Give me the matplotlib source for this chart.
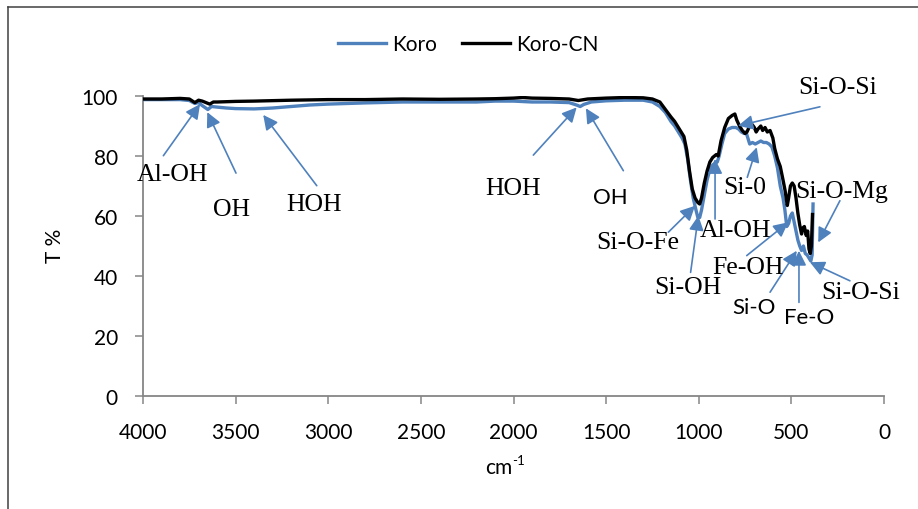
import matplotlib
matplotlib.use("Agg")
import matplotlib.pyplot as plt
from matplotlib.lines import Line2D

# FTIR spectra (wavenumber cm-1, transmittance %)
koro_wn = [4000, 3900, 3800, 3750, 3720, 3700, 3680, 3650, 3630, 3600, 3550,
           3500, 3400, 3300, 3200, 3100, 3000, 2800, 2600, 2400, 2200, 2100,
           2000, 1900, 1800, 1700, 1660, 1640, 1620, 1580, 1500, 1400, 1300,
           1250, 1210, 1180, 1150, 1130, 1110, 1090, 1075, 1060, 1045, 1030,
           1015, 1005, 995, 985, 970, 955, 940, 925, 912, 900, 890, 875, 860,
           840, 820, 800, 785, 770, 755, 745, 735, 725, 710, 695, 680, 665,
           650, 635, 620, 605, 590, 575, 560, 545, 535, 525, 515, 505, 495,
           485, 475, 465, 455, 445, 435, 425, 415, 405, 395, 388, 383]
koro_t = [98.8, 98.8, 98.8, 98.5, 97.5, 97.8, 96.8, 95.5, 96.5, 96.3, 96.0,
          95.8, 95.7, 96.0, 96.5, 97.0, 97.3, 97.7, 98.0, 98.0, 98.0, 98.3,
          98.3, 98.0, 98.0, 97.8, 97.0, 96.5, 97.2, 98.0, 98.4, 98.6, 98.6,
          98.0, 96.5, 94.5, 91.5, 90.0, 88.0, 86.0, 84.0, 79.0, 72.0, 66.0,
          62.0, 59.5, 59.5, 62.0, 67.0, 72.0, 75.5, 77.0, 77.5, 78.0, 80.0,
          84.0, 87.5, 89.0, 89.5, 89.5, 89.0, 88.0, 87.5, 88.0, 86.0, 84.0,
          84.5, 84.0, 84.5, 85.0, 84.5, 84.5, 84.0, 83.0, 80.0, 76.0, 70.0,
          66.0, 62.0, 56.5, 57.5, 60.0, 61.0, 58.0, 55.0, 52.0, 50.0, 48.5,
          50.0, 47.5, 47.0, 46.0, 45.0, 47.0, 64.0]

koro_cn_wn = [4000, 3900, 3800, 3750, 3720, 3700, 3680, 3640, 3620, 3600, 3500,
              3400, 3200, 3000, 2800, 2600, 2400, 2200, 2100, 2000, 1950, 1900,
              1800, 1700, 1650, 1600, 1500, 1400, 1300, 1250, 1210, 1180, 1150,
              1130, 1100, 1080, 1065, 1050, 1035, 1020, 1005, 995, 985, 970,
              955, 940, 925, 915, 905, 895, 880, 860, 840, 820, 805, 795, 780,
              765, 750, 740, 725, 712, 700, 690, 680, 665, 655, 642, 630, 615,
              600, 590, 575, 560, 545, 534, 522, 515, 505, 495, 485, 475, 465,
              455, 445, 438, 430, 420, 412, 405, 398, 392, 386]
koro_cn_t = [99.0, 99.0, 99.2, 99.0, 97.8, 98.6, 98.3, 97.3, 98.0, 98.0, 98.2,
             98.3, 98.6, 98.8, 98.8, 99.0, 98.9, 99.0, 99.1, 99.3, 99.5, 99.3,
             99.2, 99.0, 98.5, 99.0, 99.3, 99.5, 99.4, 99.0, 98.0, 95.5, 93.0,
             91.5, 88.5, 86.5, 82.0, 75.0, 69.0, 66.0, 64.5, 64.0, 66.0, 71.0,
             75.0, 78.0, 79.5, 80.0, 80.5, 80.0, 85.0, 89.5, 92.5, 93.5, 94.0,
             92.0, 90.0, 88.5, 87.5, 88.0, 90.0, 90.5, 89.5, 88.0, 89.0, 90.0,
             88.5, 89.5, 88.0, 88.5, 86.0, 82.5, 79.0, 76.5, 72.0, 68.5, 63.5,
             66.0, 70.0, 71.0, 70.0, 66.0, 61.0, 57.0, 54.0, 56.0, 56.5, 53.5,
             55.0, 49.0, 47.5, 50.0, 60.5]

x_ticks = [4000, 3500, 3000, 2500, 2000, 1500, 1000, 500, 0]
y_ticks = [0, 20, 40, 60, 80, 100]

# band labels: text, text position, arrow tail, arrow head, serif?
bands = [
    ("Al-OH", (3843, 74.0), (3890, 80.1), (3692, 97.3), True),
    ("OH", (3520, 62.3), (3498, 74.3), (3653, 94.6), True),
    ("HOH", (3077, 64.0), (3062, 70.1), (3351, 93.7), True),
    ("HOH", (2003, 69.3), (1893, 80.3), (1659, 96.2), True),
    ("OH", (1479, 66.3), (1407, 75.1), (1609, 95.9), False),
    ("Si-O-Si", (248, 103.0), (346, 96.4), (787, 90.1), True),
    ("Si-0", (750, 69.7), (738, 72.9), (687, 82.9), True),
    ("Si-O-Fe", (1328, 51.3), (1164, 54.6), (1020, 63.4), True),
    ("Si-OH", (1058, 36.3), (1044, 41.2), (1002, 60.1), True),
    ("Al-OH", (804, 55.3), (912, 59.0), (912, 79.0), True),
    ("Fe-OH", (734, 43.0), (741, 46.8), (517, 57.9), True),
    ("Si-O-Mg", (227, 68.3), (238, 65.1), (355, 51.2), True),
    ("Si-O", (702, 29.7), (615, 34.6), (471, 48.4), False),
    ("Fe-O", (405, 26.3), (459, 31.2), (459, 48.4), False),
    ("Si-O-Si", (124, 34.7), (184, 38.4), (400, 44.6), True),
]

blue = "#4F81BD"
grey = "#868686"
sans = "Lato"
serif = "Liberation Serif"

fig = plt.figure(figsize=(9.18, 5.10), dpi=100)
ax = fig.add_axes([143 / 918, 1 - 397 / 510, 741 / 918, 300 / 510])

ax.plot(koro_wn, koro_t, color=blue, lw=2.4, label="Koro", zorder=3)
ax.plot(koro_cn_wn, koro_cn_t, color="black", lw=2.4, label="Koro-CN", zorder=4)

for label, txt, tail, head, is_serif in bands:
    ax.annotate("", xy=head, xytext=tail,
                arrowprops=dict(arrowstyle="-|>", color=blue, lw=1.2,
                                mutation_scale=22, shrinkA=0, shrinkB=0),
                annotation_clip=False, zorder=5)
    if is_serif:
        ax.text(txt[0], txt[1], label, ha="center", va="center",
                family=serif, fontsize=18.5, zorder=6, clip_on=False)
    else:
        ax.text(txt[0], txt[1], label, ha="center", va="center",
                family=sans, fontsize=16, zorder=6, clip_on=False)

ax.set_xlim(4000, 0)
ax.set_ylim(0, 100)
ax.set_xticks(x_ticks)
ax.set_yticks(y_ticks)
for lab in ax.get_xticklabels() + ax.get_yticklabels():
    lab.set_family(sans)
    lab.set_fontsize(15)
ax.tick_params(axis="both", direction="out", length=6, width=1.1, color=grey)
ax.tick_params(axis="y", pad=12)
ax.tick_params(axis="x", pad=13)
for side in ("top", "right"):
    ax.spines[side].set_visible(False)
for side in ("left", "bottom"):
    ax.spines[side].set_color(grey)
    ax.spines[side].set_linewidth(1.3)

fig.text(55 / 918, 1 - 246 / 510, "T %", rotation=90, ha="center", va="center",
         family=sans, fontsize=15)
fig.text(512 / 918, 1 - 468 / 510, "cm", ha="right", va="center",
         family=sans, fontsize=15)
fig.text(512 / 918, 1 - 461 / 510, "-1", ha="left", va="center",
         family=sans, fontsize=9.5)

fig.legend(loc="center", bbox_to_anchor=(468 / 918, 1 - 45 / 510), ncol=2,
           frameon=False, prop={"family": sans, "size": 15},
           handlelength=2.3, handletextpad=0.3, columnspacing=1.2)

# outer chart border (only top and left show in the crop)
fig.add_artist(Line2D([8 / 918, 8 / 918], [0, 1 - 8 / 510],
                      transform=fig.transFigure, color="#404040", lw=1.1))
fig.add_artist(Line2D([8 / 918, 1], [1 - 8 / 510, 1 - 8 / 510],
                      transform=fig.transFigure, color="#404040", lw=1.1))

fig.savefig("out.png", dpi=100)
